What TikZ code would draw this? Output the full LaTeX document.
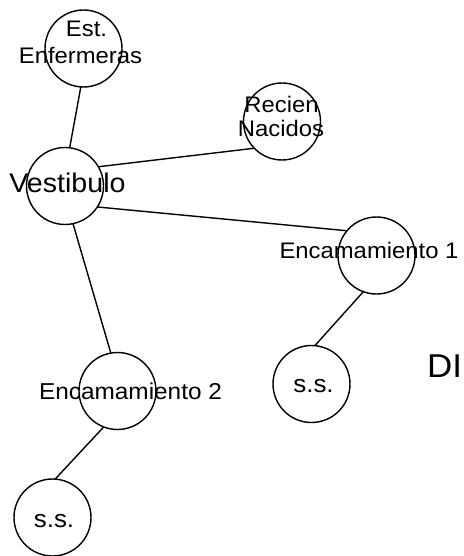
\documentclass[tikz,border=0pt]{standalone}
\usepackage{fontspec}
\setmainfont{Liberation Sans}[FakeStretch=1.06]
\begin{document}
\begin{tikzpicture}[x=1pt,y=-1pt,
  room/.style={circle,draw,line width=1.4pt,minimum size=77pt,inner sep=0pt,outer sep=0pt},
  lbl/.style={anchor=base,inner sep=0pt,font=\fontsize{22.5}{22.5}\selectfont},
  link/.style={line width=1.4pt}]
\useasboundingbox (0,0) rectangle (463,556);
% circles
\node[room] (est) at (83.5,48.5) {};
\node[room] (vest) at (65,186) {};
\node[room] (recien) at (282,121.5) {};
\node[room] (enc1) at (376.5,255.5) {};
\node[room] (ssr) at (311.5,384) {};
\node[room] (enc2) at (117.5,391) {};
\node[room] (ssb) at (52.5,517.5) {};
% labels
\node[lbl] (t1) at (86.5,37) {Est.};
\node[lbl] (t2) at (80.5,64) {Enfermeras};
\node[lbl,font=\fontsize{27}{27}\selectfont] (t3) at (67.5,192) {Vestibulo};
\node[lbl] (t4) at (281.5,113) {Recien};
\node[lbl] (t5) at (281,137) {Nacidos};
\node[lbl] (t6) at (369,258) {Encamamiento 1};
\node[lbl,font=\fontsize{24.5}{24.5}\selectfont] (t7) at (313.5,392) {s.s.};
\node[lbl,font=\fontsize{23}{23}\selectfont] (t8) at (130.5,399) {Encamamiento 2};
\node[lbl,font=\fontsize{24.5}{24.5}\selectfont] (t9) at (54,527) {s.s.};
\node[lbl,anchor=base west,font=\fontsize{33}{33}\selectfont] (t10) at (427,377) {DI};
% connectors
\draw[link] (est.266) -- (vest.83);
\draw[link] (vest.30) -- (recien.224);
\draw[link] (vest.-33) -- (enc1.140);
\draw[link] (vest.-78) -- (enc2.100);
\draw[link] (enc1.250) -- (ssr.85);
\draw[link] (enc2.249) -- (ssb.86);
\end{tikzpicture}
\end{document}
